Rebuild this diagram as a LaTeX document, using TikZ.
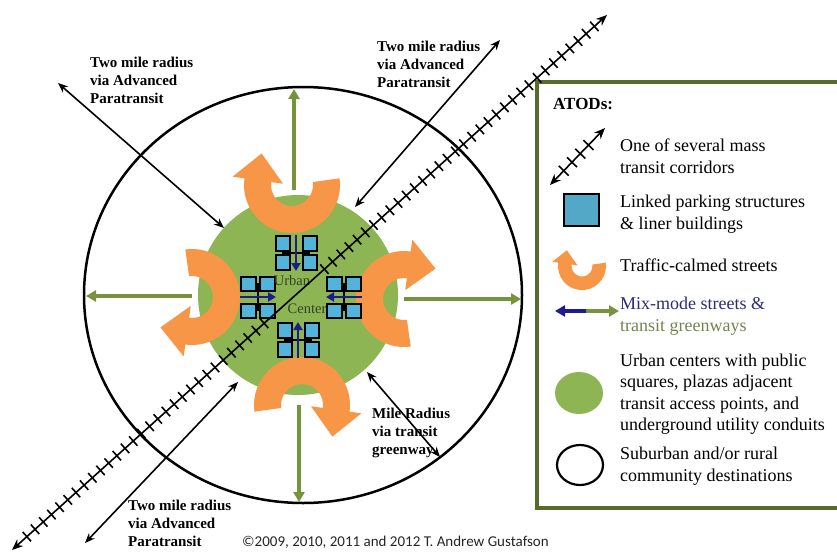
\documentclass[tikz,border=0pt]{standalone}
\usepackage{fontspec}
\setmainfont{Liberation Serif}
\newfontfamily\credfont{Carlito}
\usetikzlibrary{arrows.meta,calc}

\definecolor{hubgreen}{HTML}{8DB554}
\definecolor{waygreen}{HTML}{77933C}
\definecolor{calmorange}{HTML}{F79646}
\definecolor{parkblue}{HTML}{52B4DA}
\definecolor{mixblue}{HTML}{1C1C8E}
\definecolor{boxolive}{HTML}{566B2C}
\definecolor{navytext}{HTML}{2B2B7A}
\definecolor{greytext}{HTML}{76834F}
\definecolor{centertext}{HTML}{33432B}

\tikzset{
  radlabel/.style={font=\fontsize{15}{18}\selectfont\bfseries, align=left, anchor=west, inner sep=0pt},
  legtext/.style={font=\fontsize{18}{21.5}\selectfont, align=left, anchor=west, inner sep=0pt},
  radius arrow/.style={draw=black, line width=1.6pt,
    {Stealth[length=10pt,width=8pt]}-{Stealth[length=10pt,width=8pt]}},
  greenway/.style={draw=waygreen, line width=3.5pt, -{Triangle[length=10pt,width=11pt]}},
  rail/.style={draw=black, line width=1.6pt,
    {Stealth[length=11pt,width=9pt]}-{Stealth[length=11pt,width=9pt]}},
  railtick/.style={draw=black, line width=1.6pt},
  % U-shaped traffic-calmed street: opens upward, arrowhead on the left end
  pics/calmed/.style={code={
    \fill[calmorange] (-8:21) -- (-8:48) arc[start angle=-8,end angle=188,radius=48]
      -- (188:60) -- ($(188:34.5)+(278:27)$) -- (188:9)
      -- (188:21) arc[start angle=188,end angle=-8,radius=21] -- cycle;
  }},
  % cluster of four linked parking structures with a mix-mode street
  pics/hub/.style={code={
    \draw[line width=1.8pt] (-13.5,-9.5) -- (-13.5,9.5) (13.5,-9.5) -- (13.5,9.5)
      (-13.5,0) -- (13.5,0);
    \foreach \sx in {-13.5,13.5}
      \foreach \sy in {-9.5,9.5}
        \draw[fill=parkblue, line width=2pt] (\sx-7,\sy-7.5) rectangle (\sx+7,\sy+7.5);
    \draw[mixblue, line width=2.8pt, -{Triangle[length=8pt,width=9pt]}] (0,-18) -- (0,18);
  }}
}

\begin{document}
\begin{tikzpicture}[x=1pt,y=-1pt]
  \useasboundingbox (0,0) rectangle (837,555);
  \fill[white] (0,0) rectangle (837,555);

  % suburban / rural destination ring and urban center
  \draw[line width=2.5pt] (303,295) circle[x radius=219, y radius=208];
  \fill[hubgreen] (298,295) circle[radius=100];

  % transit greenways
  \draw[greenway] (294,190) -- (294,89);
  \draw[greenway] (404,299) -- (521,299);
  \draw[greenway] (299,405) -- (299,502);
  \draw[greenway] (192,296) -- (86,296);

  % traffic-calmed streets
  \pic at (292,185) {calmed};
  \pic[rotate=-90] at (404,299) {calmed};
  \pic[rotate=180] at (302,405) {calmed};
  \pic[rotate=90] at (192,297) {calmed};

  % linked parking structures
  \pic at (296,253) {hub};
  \pic[rotate=90] at (258,297) {hub};
  \pic[rotate=-90] at (344,297) {hub};
  \pic[rotate=180] at (298,340) {hub};

  \node[font=\fontsize{14.5}{16}\selectfont, text=centertext, inner sep=0pt] (urban) at (292,281) {Urban};
  \node[font=\fontsize{14.5}{16}\selectfont, text=centertext, inner sep=0pt] (center) at (307,309) {Center};

  % legend frame
  \draw[boxolive, line width=4pt, fill=white] (537,82) rectangle (850,508);

  % mass transit corridor
  \coordinate (rs) at (12,550);
  \coordinate (re) at (607,15);
  \draw[rail] (rs) -- (re);
  \foreach \t in {20,31,...,340}
    \draw[railtick] ($(rs)!\t/800!(re)$) +(-4.2,-4.7) -- +(4.2,4.7);
  \foreach \t in {420,431,...,785}
    \draw[railtick] ($(rs)!\t/800!(re)$) +(-4.2,-4.7) -- +(4.2,4.7);

  % radius arrows
  \coordinate (nwo) at (58,83);   \coordinate (nwi) at (224,228);
  \coordinate (neo) at (500,40);  \coordinate (nei) at (355,207);
  \coordinate (swo) at (85,543);  \coordinate (swi) at (238,382);
  \coordinate (sei) at (367,372); \coordinate (seo) at (440,457);
  \draw[radius arrow] (nwo) -- (nwi);
  \draw[radius arrow] (neo) -- (nei);
  \draw[radius arrow] (swo) -- (swi);
  \draw[radius arrow] (sei) -- (seo);

  \node[radlabel] (nwlabel) at (90,80) {Two mile radius\\via Advanced\\Paratransit};
  \node[radlabel] (nelabel) at (377,64) {Two mile radius\\via Advanced\\Paratransit};
  \node[radlabel] (swlabel) at (128,523) {Two mile radius\\via Advanced\\Paratransit};
  \node[radlabel] (selabel) at (372,433) {Mile Radius\\via transit\\greenway};

  \node[font=\credfont\fontsize{15}{18}\selectfont, text=black!85, anchor=west, inner sep=0pt]
    (credit) at (242,542) {©2009, 2010, 2011 and 2012 T. Andrew Gustafson};

  % legend entries
  \node[font=\fontsize{17}{20}\selectfont\bfseries, anchor=west, inner sep=0pt] (atod) at (553,104) {ATODs:};

  \coordinate (lrs) at (550,185);
  \coordinate (lre) at (605,128);
  \draw[rail] (lrs) -- (lre);
  \foreach \t in {0.25,0.4,0.55,0.7}
    \draw[railtick] ($(lrs)!\t!(lre)$) +(-5,-4.9) -- +(5,4.9);
  \node[legtext] (ltrail) at (620,156) {One of several mass\\transit corridors};

  \draw[fill=parkblue!90!black!95, line width=2.5pt] (564,194) rectangle (599,226);
  \node[legtext] (ltpark) at (620,214) {Linked parking structures\\\& liner buildings};

  \pic[scale=0.5] at (582,266) {calmed};
  \node[legtext] (ltcalm) at (620,265) {Traffic-calmed streets};

  \coordinate (lmix) at (586,311);
  \coordinate (lmixl) at (555,311);
  \coordinate (lmixr) at (619,311);
  \draw[mixblue, line width=4pt, -{Triangle[length=10pt,width=11pt]}] (lmix) -- (lmixl);
  \draw[waygreen, line width=4pt, -{Triangle[length=10pt,width=11pt]}] (lmix) -- (lmixr);
  \node[legtext] (ltmix) at (620,316)
    {\textcolor{navytext}{Mix-mode streets \&}\\\textcolor{greytext}{transit greenways}};

  \fill[hubgreen] (579,393) ellipse[x radius=24, y radius=21];
  \node[legtext] (lthub) at (620,394) {Urban centers with public\\squares, plazas adjacent\\transit access points, and\\underground utility conduits};

  \draw[line width=2.2pt] (580,465) ellipse[x radius=23, y radius=20];
  \node[legtext] (ltring) at (620,466) {Suburban and/or rural\\community destinations};
\end{tikzpicture}
\end{document}
